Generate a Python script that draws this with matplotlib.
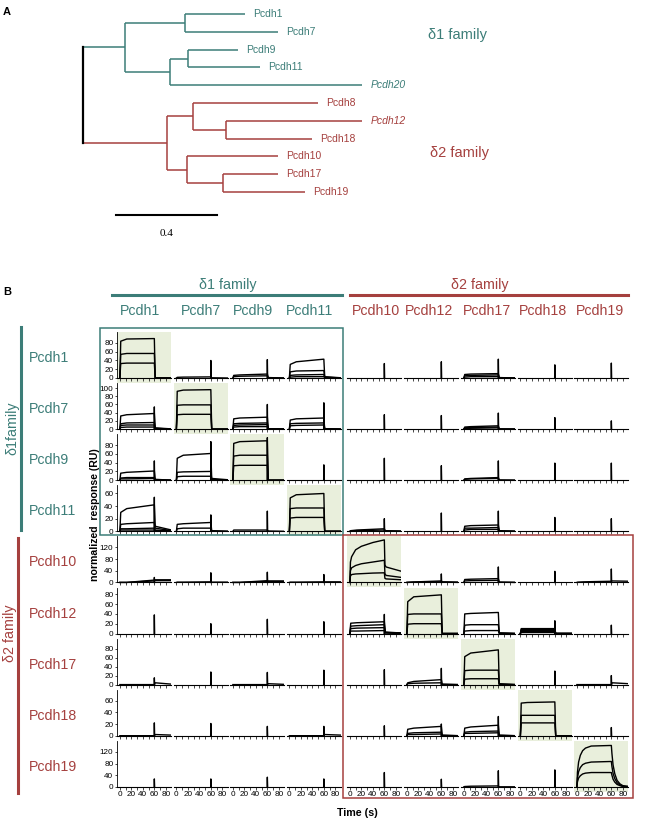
import matplotlib.pyplot as plt
from matplotlib.lines import Line2D
from matplotlib.patches import Rectangle

plt.rcParams['font.family'] = ['Liberation Sans', 'DejaVu Sans']

W, H = 667, 819
TEAL = '#3c7d78'
RED = '#a5403e'
SHADE = '#e9efdc'

# ---------------- panel A : tree (name, branch length, children) ----------------
TREE_D1 = ['d1', 0.167, [
    ['', 0.238, [['Pcdh1', 0.238], ['Pcdh7', 0.369]]],
    ['', 0.179, [
        ['', 0.071, [['Pcdh9', 0.198], ['Pcdh11', 0.286]]],
        ['Pcdh20', 0.762]]]]]
TREE_D2 = ['d2', 0.333, [
    ['', 0.103, [['Pcdh8', 0.496],
                 ['', 0.131, [['Pcdh12', 0.540], ['Pcdh18', 0.341]]]]],
    ['', 0.079, [['Pcdh10', 0.361],
                 ['', 0.143, [['Pcdh17', 0.218], ['Pcdh19', 0.325]]]]]]]
ITALIC = ['Pcdh20', 'Pcdh12']
SCALE_BAR = 0.4

# ---------------- panel B : SPR sensorgrams ----------------
NAMES = ['Pcdh1', 'Pcdh7', 'Pcdh9', 'Pcdh11',
         'Pcdh10', 'Pcdh12', 'Pcdh17', 'Pcdh18', 'Pcdh19']
YMAX = [105, 112, 105, 73, 158, 94, 102, 79, 158]
YTICKS = [[0, 20, 40, 60, 80], [0, 20, 40, 60, 80, 100], [0, 20, 40, 60, 80],
          [0, 20, 40, 60], [0, 40, 80, 120], [0, 20, 40, 60, 80],
          [0, 20, 40, 60, 80], [0, 20, 40, 60], [0, 40, 80, 120]]
XTICKS = [0, 10, 20, 30, 40, 50, 60, 70, 80]

# injection spike height at t=60 (row = analyte, col = surface)
SPIKES = [[0, 40, 42, 0, 33, 37, 43, 30, 34],
          [54, 0, 60, 64, 35, 33, 39, 28, 20],
          [44, 88, 97, 35, 50, 33, 44, 39, 39],
          [54, 26, 32, 0, 20, 29, 32, 22, 20],
          [17, 33, 35, 27, 0, 29, 53, 38, 46],
          [38, 20, 29, 24, 39, 0, 0, 26, 17],
          [15, 28, 27, 32, 33, 36, 0, 30, 20],
          [22, 21, 16, 16, 17, 20, 33, 0, 14],
          [27, 27, 33, 27, 49, 26, 55, 58, 0]]

# curve read at t = 0, 1.5, 12, 60, 61.5, 90 -> (start, knee, end, off, tail)
T_KNOTS = [0, 1.5, 12, 60, 61.5, 90]
SELF_CURVES = {
    0: [(84, 89, 90, 0, 0), (54, 56, 56, 0, 0), (33, 34, 34, 0, 0)],
    1: [(92, 95, 96, 0, 0), (58, 59, 59, 0, 0), (35, 36, 36, 0, 0)],
    2: [(84, 88, 90, 0, 0), (55, 57, 57, 0, 0), (33, 34, 34, 0, 0)],
    3: [(53, 58, 60, 0, 0), (36, 37, 37, 0, 0), (21, 22, 22, 0, 0)],
    5: [(65, 75, 79, 0, 0), (39, 40, 40, 0, 0), (19, 20, 20, 0, 0)],
    6: [(62, 70, 77, 2, 0), (31, 32, 32, 1, 0), (12, 13, 13, 0, 0)],
    7: [(56, 57, 58, 0, 0), (35, 35, 35, 0, 0), (22, 22, 22, 0, 0)],
}
CROSS_CURVES = {
    (0, 1): [(1.5, 2, 2.5, 0.5, 0)],
    (0, 2): [(6, 7, 9, 1, 0), (3, 4, 5, 0.5, 0)],
    (0, 3): [(31, 37, 43, 3, 0.5), (14, 16, 17, 2, 0), (6, 7, 8, 1, 0), (2, 3, 3, 0.5, 0)],
    (0, 6): [(8, 9, 10, 1, 0), (5, 6, 7, 0.5, 0), (2, 3, 3, 0, 0)],
    (1, 0): [(32, 35, 38, 3, 0.5), (13, 15, 16, 2, 0), (9, 10, 10, 1, 0), (4, 5, 5, 0.5, 0)],
    (1, 2): [(25, 27, 29, 1, 0), (13, 14, 15, 1, 0), (9, 10, 11, 0.5, 0), (5, 6, 6, 0, 0)],
    (1, 3): [(22, 25, 27, 1, 0), (13, 14, 15, 1, 0), (8, 9, 10, 0.5, 0)],
    (1, 6): [(5, 6, 8, 0.5, 0), (3, 4, 5, 0, 0), (1.5, 2, 3, 0, 0)],
    (2, 0): [(16, 18, 21, 2, 0), (5, 6, 6, 1, 0), (3, 3, 4, 0.5, 0)],
    (2, 1): [(50, 57, 61, 4, 1), (18, 19, 20, 2, 0), (8, 9, 9, 1, 0)],
    (2, 6): [(3, 4, 6, 0.5, 0), (2, 3, 4, 0, 0)],
    (3, 0): [(30, 36, 42, 8, 2), (11, 12, 14, 5, 1), (4, 4, 5, 2, 0.5), (2, 2, 2, 1, 0)],
    (3, 1): [(11, 12, 14, 1, 0), (4, 5, 5, 0.5, 0)],
    (3, 2): [(2, 2, 2, 0.5, 0)],
    (3, 4): [(1, 2, 4, 1, 0.5), (0.5, 1, 2, 0.5, 0)],
    (3, 6): [(8, 9, 10, 1, 0), (5, 5, 6, 0.5, 0), (2, 3, 3, 0, 0)],
    (4, 0): [(0, 0, 8, 9, 9), (0, 0, 5, 6, 6)],
    (4, 1): [(1, 1, 2, 1, 1)],
    (4, 2): [(0, 0, 6, 5, 5), (0, 0, 3, 3, 3)],
    (4, 3): [(1, 1, 2, 2, 2)],
    (4, 5): [(0.5, 1.5, 5, 2, 1), (0, 1, 2, 1, 0)],
    (4, 6): [(10, 11, 13, 1, 0), (5, 6, 7, 0.5, 0)],
    (4, 8): [(1, 2, 4, 5, 4)],
    (5, 4): [(21, 22, 24, 3, 1), (15, 16, 18, 2, 1), (10, 11, 12, 2, 0.5), (5, 5, 6, 1, 0)],
    (5, 6): [(40, 41, 43, 1, 0), (17, 18, 18, 1, 0), (5, 6, 6, 0.5, 0)],
    (5, 7): [(10, 10, 10, 0, 0), (8, 8, 8, 0, 0), (6, 6, 6, 0, 0), (4, 4, 4, 0, 0), (2, 2, 2, 0, 0)],
    (6, 0): [(0, 0, 0, 4, 1)],
    (6, 2): [(0, 0, 0, 2, 0.5)],
    (6, 5): [(4, 7, 11, 1, 0), (2, 3, 4, 0.5, 0)],
    (6, 8): [(0, 0, 0, 4, 2)],
    (7, 0): [(0, 0, 0, 2, 1)],
    (7, 3): [(0, 0, 0, 2, 1)],
    (7, 5): [(11, 13, 16, 1, 0), (4, 5, 6, 0.5, 0), (2, 2, 3, 0, 0)],
    (7, 6): [(13, 15, 18, 1, 0), (6, 7, 8, 0.5, 0), (4, 4, 5, 0, 0)],
    (8, 6): [(1, 2, 3, 0, 0)],
}
# curved self-binding traces, read point by point
T_PCDH10 = [0, 1, 3, 10, 20, 40, 60, 61, 63, 90]
PCDH10_SELF = [[0, 70, 88, 112, 124, 137, 146, 60, 53, 38],
               [0, 40, 50, 58, 64, 70, 76, 30, 24, 17],
               [0, 22, 27, 29, 30, 32, 33, 14, 12, 9]]
T_PCDH19 = [0, 1, 3, 6, 10, 15, 25, 60, 61, 63, 66, 70, 75, 80, 90]
PCDH19_SELF = [[0, 50, 85, 108, 124, 133, 140, 142, 115, 75, 45, 22, 10, 4, 1],
               [0, 30, 52, 66, 76, 81, 85, 87, 70, 46, 28, 14, 6, 2, 1],
               [0, 17, 30, 38, 44, 47, 49, 49, 40, 26, 16, 8, 4, 1, 0]]

# layout (pixels)
COL_X = [117, 173.5, 230, 286.5, 347, 404, 461, 517.5, 574]
COL_LABEL_X = [140, 201, 253, 310, 376, 429, 487, 543, 600]


def fx(px):
    return px / W


def fy(px):
    return 1 - px / H


fig = plt.figure(figsize=(W / 100, H / 100), dpi=100)

# ---------- panel A ----------
ax_t = fig.add_axes([0, fy(250), 1, 250 / H])
ax_t.set_xlim(-83 / 252, (W - 83) / 252)
ax_t.set_ylim((250 - 14) / 17.8, -14 / 17.8)
ax_t.axis('off')

leaves = []


def draw_node(node, x0, color):
    x = x0 + node[1]
    if len(node) == 3:
        ys = [draw_node(ch, x, color) for ch in node[2]]
        ax_t.plot([x, x], [ys[0], ys[-1]], color=color, lw=1.1, solid_capstyle='butt')
        y = (ys[0] + ys[-1]) / 2
    else:
        y = len(leaves)
        leaves.append(node[0])
        ax_t.annotate(node[0], (x, y), xytext=(6, 0), textcoords='offset points',
                      va='center', color=color, fontsize=7.5,
                      style='italic' if node[0] in ITALIC else 'normal')
    ax_t.plot([x0, x], [y, y], color=color, lw=1.1, solid_capstyle='butt')
    return y


y1 = draw_node(TREE_D1, 0, TEAL)
y2 = draw_node(TREE_D2, 0, RED)
ax_t.plot([0, 0], [y1, y2], color='black', lw=1.6)

bar_x0 = (116 - 83) / 252
ax_t.plot([bar_x0, bar_x0 + SCALE_BAR], [11.29, 11.29], color='black', lw=1.5)
ax_t.text(bar_x0 + SCALE_BAR / 2, 12.35, f'{SCALE_BAR}', ha='center', va='center',
          fontsize=8, family='Liberation Serif')

fig.text(fx(3), fy(12), 'A', fontsize=8, weight='bold', va='center')
fig.text(fx(428), fy(35), 'δ1 family', fontsize=10.5, color=TEAL, va='center')
fig.text(fx(430), fy(153), 'δ2 family', fontsize=10.5, color=RED, va='center')

# ---------- panel B ----------
fig.text(fx(3), fy(292), 'B', fontsize=8, weight='bold', va='center')
fig.text(fx(228), fy(285), 'δ1 family', fontsize=10.3, color=TEAL, ha='center', va='center')
fig.text(fx(480), fy(285), 'δ2 family', fontsize=10.3, color=RED, ha='center', va='center')
fig.add_artist(Line2D([fx(112), fx(342)], [fy(295), fy(295)], color=TEAL, lw=2.2))
fig.add_artist(Line2D([fx(350), fx(628)], [fy(295), fy(295)], color=RED, lw=2.2))

for c, name in enumerate(NAMES):
    fig.text(fx(COL_LABEL_X[c]), fy(311), name, fontsize=10.2,
             color=TEAL if c < 4 else RED, ha='center', va='center')

fig.add_artist(Line2D([fx(21), fx(21)], [fy(327), fy(530)], color=TEAL, lw=2.2))
fig.add_artist(Line2D([fx(18), fx(18)], [fy(538), fy(793)], color=RED, lw=2.2))
fig.text(fx(12), fy(428), 'δ1family', fontsize=10.3, color=TEAL, rotation=90,
         ha='center', va='center')
fig.text(fx(10), fy(633), 'δ2 family', fontsize=10.3, color=RED, rotation=90,
         ha='center', va='center')

for r in range(9):
    base = 378 + 51.1 * r
    fig.text(fx(29), fy(base - 20), NAMES[r], fontsize=10.2,
             color=TEAL if r < 4 else RED, ha='left', va='center')
    ymax = YMAX[r]
    for c in range(9):
        ax = fig.add_axes([fx(COL_X[c]), fy(base + 5), 54 / W, 51 / H])
        ax.set_xlim(-5, 89)
        ax.set_ylim(-5 * ymax / 46, ymax)
        ax.set_facecolor(SHADE if r == c else 'none')
        for s in ['top', 'right']:
            ax.spines[s].set_visible(False)
        ax.spines['bottom'].set_position(('data', 0))
        ax.spines['bottom'].set_linewidth(0.8)
        ax.set_xticks(XTICKS)
        if r == 8:
            ax.set_xticklabels([str(t) if t % 20 == 0 else '' for t in XTICKS])
        else:
            ax.set_xticklabels([])
        ax.tick_params(axis='x', length=1.8, width=0.5, pad=1, labelsize=5.9)
        if c == 0:
            ax.spines['left'].set_bounds(0, ymax)
            ax.spines['left'].set_linewidth(0.6)
            ax.set_yticks(YTICKS[r])
            ax.tick_params(axis='y', length=1.8, width=0.5, pad=0.8, labelsize=5.9)
        else:
            ax.spines['left'].set_visible(False)
            ax.set_yticks([])

        if r == c == 4:
            for vals in PCDH10_SELF:
                ax.plot(T_PCDH10, vals, color='black', lw=1.0)
        elif r == c == 8:
            for vals in PCDH19_SELF:
                ax.plot(T_PCDH19, vals, color='black', lw=1.0)
        else:
            curves = SELF_CURVES.get(r, []) if r == c else CROSS_CURVES.get((r, c), [])
            for cv in curves:
                ax.plot(T_KNOTS, [0] + list(cv), color='black', lw=1.0)
        if SPIKES[r][c]:
            ax.plot([59.7, 60, 60.5], [0, SPIKES[r][c], 0], color='black', lw=1.0)

fig.add_artist(Rectangle((fx(100), fy(535)), 243 / W, 207 / H, fill=False,
                         ec=TEAL, lw=1.1))
fig.add_artist(Rectangle((fx(343), fy(798)), 290 / W, 263 / H, fill=False,
                         ec=RED, lw=1.1))

fig.text(fx(95), fy(515), 'normalized  response (RU)', fontsize=7.6, weight='bold',
         rotation=90, ha='center', va='center')
fig.text(fx(357), fy(813), 'Time (s)', fontsize=7.7, weight='bold',
         ha='center', va='center')

fig.savefig('out.png', dpi=100)
